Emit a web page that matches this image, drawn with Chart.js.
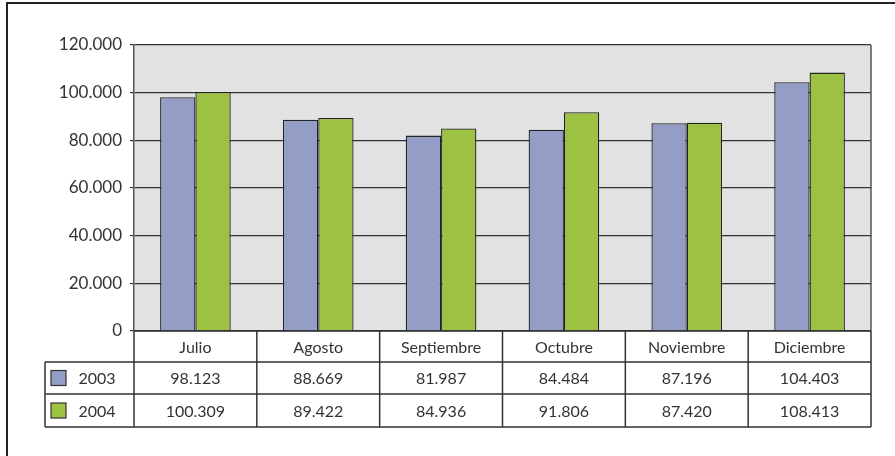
<!DOCTYPE html>
<html>
<head>
<meta charset="utf-8">
<script src="https://cdn.jsdelivr.net/npm/chart.js@4"></script>
<style>
  html, body { margin: 0; padding: 0; background: #fff; }
  #wrap { position: relative; width: 895px; height: 456px; }
  #frame { position: absolute; left: 6px; top: 2px; right: -10px; bottom: -10px;
           border-left: 2px solid #222; border-top: 2px solid #222; }
  canvas { position: absolute; left: 0; top: 0; }
</style>
</head>
<body>
<div id="wrap">
  <div id="frame"></div>
  <canvas id="myBarChart" width="895" height="456"></canvas>
</div>
<script>
const categories = ['Julio', 'Agosto', 'Septiembre', 'Octubre', 'Noviembre', 'Diciembre'];
const seriesNames = ['2003', '2004'];
const values2003 = [98123, 88669, 81987, 84484, 87196, 104403];
const values2004 = [100309, 89422, 84936, 91806, 87420, 108413];
const seriesColors = ['#939DC5', '#9DC243'];

const fontFamily = "Lato, 'Open Sans', sans-serif";
const fmt = v => v.toLocaleString('de-DE');

// gray plot background + right border
const plotBg = {
    id: 'plotBg',
    beforeDraw(chart) {
        const { ctx, chartArea: a } = chart;
        ctx.save();
        ctx.fillStyle = '#E1E2E1';
        ctx.fillRect(a.left, a.top, a.right - a.left, a.bottom - a.top);
        ctx.restore();
    },
    afterDraw(chart) {
        const { ctx, chartArea: a } = chart;
        ctx.save();
        ctx.strokeStyle = '#555';
        ctx.lineWidth = 1.5;
        ctx.beginPath();
        ctx.moveTo(a.right, a.top);
        ctx.lineTo(a.right, a.bottom);
        ctx.stroke();
        ctx.restore();
    }
};

// data table under the plot
const dataTable = {
    id: 'dataTable',
    afterDraw(chart) {
        const { ctx, chartArea: a } = chart;
        const x = chart.scales.x;
        const tableLeft = 45;
        const y0 = a.bottom, y1 = y0 + 31, y2 = y1 + 32, y3 = y2 + 33;
        const rows = [values2003, values2004];
        const step = (a.right - a.left) / categories.length;

        ctx.save();
        ctx.strokeStyle = '#333';
        ctx.lineWidth = 1.5;
        ctx.beginPath();
        // horizontal lines
        ctx.moveTo(a.left, y0); ctx.lineTo(a.right, y0);
        ctx.moveTo(tableLeft, y1); ctx.lineTo(a.right, y1);
        ctx.moveTo(tableLeft, y2); ctx.lineTo(a.right, y2);
        ctx.moveTo(tableLeft, y3); ctx.lineTo(a.right, y3);
        // vertical lines
        ctx.moveTo(tableLeft, y1); ctx.lineTo(tableLeft, y3);
        for (let i = 0; i <= categories.length; i++) {
            const xx = a.left + i * step;
            ctx.moveTo(xx, y0); ctx.lineTo(xx, y3);
        }
        ctx.stroke();

        ctx.fillStyle = '#333';
        ctx.font = '400 16px ' + fontFamily;
        ctx.textAlign = 'center';
        ctx.textBaseline = 'middle';
        categories.forEach((c, i) => {
            const cx = x.getPixelForValue(i);
            ctx.fillText(c, cx, (y0 + y1) / 2 + 1);
            ctx.fillText(fmt(rows[0][i]), cx, (y1 + y2) / 2 + 1);
            ctx.fillText(fmt(rows[1][i]), cx, (y2 + y3) / 2 + 1);
        });

        // legend keys
        [[y1, y2], [y2, y3]].forEach(([ya, yb], s) => {
            const my = (ya + yb) / 2;
            ctx.fillStyle = seriesColors[s];
            ctx.fillRect(51, my - 7.5, 15, 15);
            ctx.lineWidth = 1.2;
            ctx.strokeStyle = '#333';
            ctx.strokeRect(51, my - 7.5, 15, 15);
            ctx.fillStyle = '#333';
            ctx.textAlign = 'center';
            ctx.fillText(seriesNames[s], 97, my + 1);
        });
        ctx.restore();
    }
};

const barCtx = document.getElementById('myBarChart').getContext('2d');

const myBarChart = new Chart(barCtx, {
    type: 'bar',
    data: {
        labels: categories,
        datasets: [{
            label: seriesNames[0],
            data: values2003,
            backgroundColor: seriesColors[0],
            borderColor: '#222',
            borderWidth: 1.3
        }, {
            label: seriesNames[1],
            data: values2004,
            backgroundColor: seriesColors[1],
            borderColor: '#222',
            borderWidth: 1.3
        }]
    },
    options: {
        responsive: false,
        maintainAspectRatio: false,
        animation: false,
        layout: { padding: { left: 0, right: 24, top: 45, bottom: 125 } },
        plugins: { legend: { display: false }, tooltip: { enabled: false } },
        datasets: { bar: { categoryPercentage: 0.575, barPercentage: 1.0 } },
        scales: {
            x: { display: false },
            y: {
                min: 0,
                max: 120000,
                afterFit(scale) { scale.width = 134; },
                ticks: {
                    stepSize: 20000,
                    padding: 8,
                    color: '#333',
                    font: { family: fontFamily, size: 17, weight: 400 },
                    callback: v => fmt(v)
                },
                grid: { color: '#333', lineWidth: 1.2, tickLength: 4, drawOnChartArea: true },
                border: { color: '#555', width: 1.5 }
            }
        }
    },
    plugins: [plotBg, dataTable]
});
</script>
</body>
</html>
